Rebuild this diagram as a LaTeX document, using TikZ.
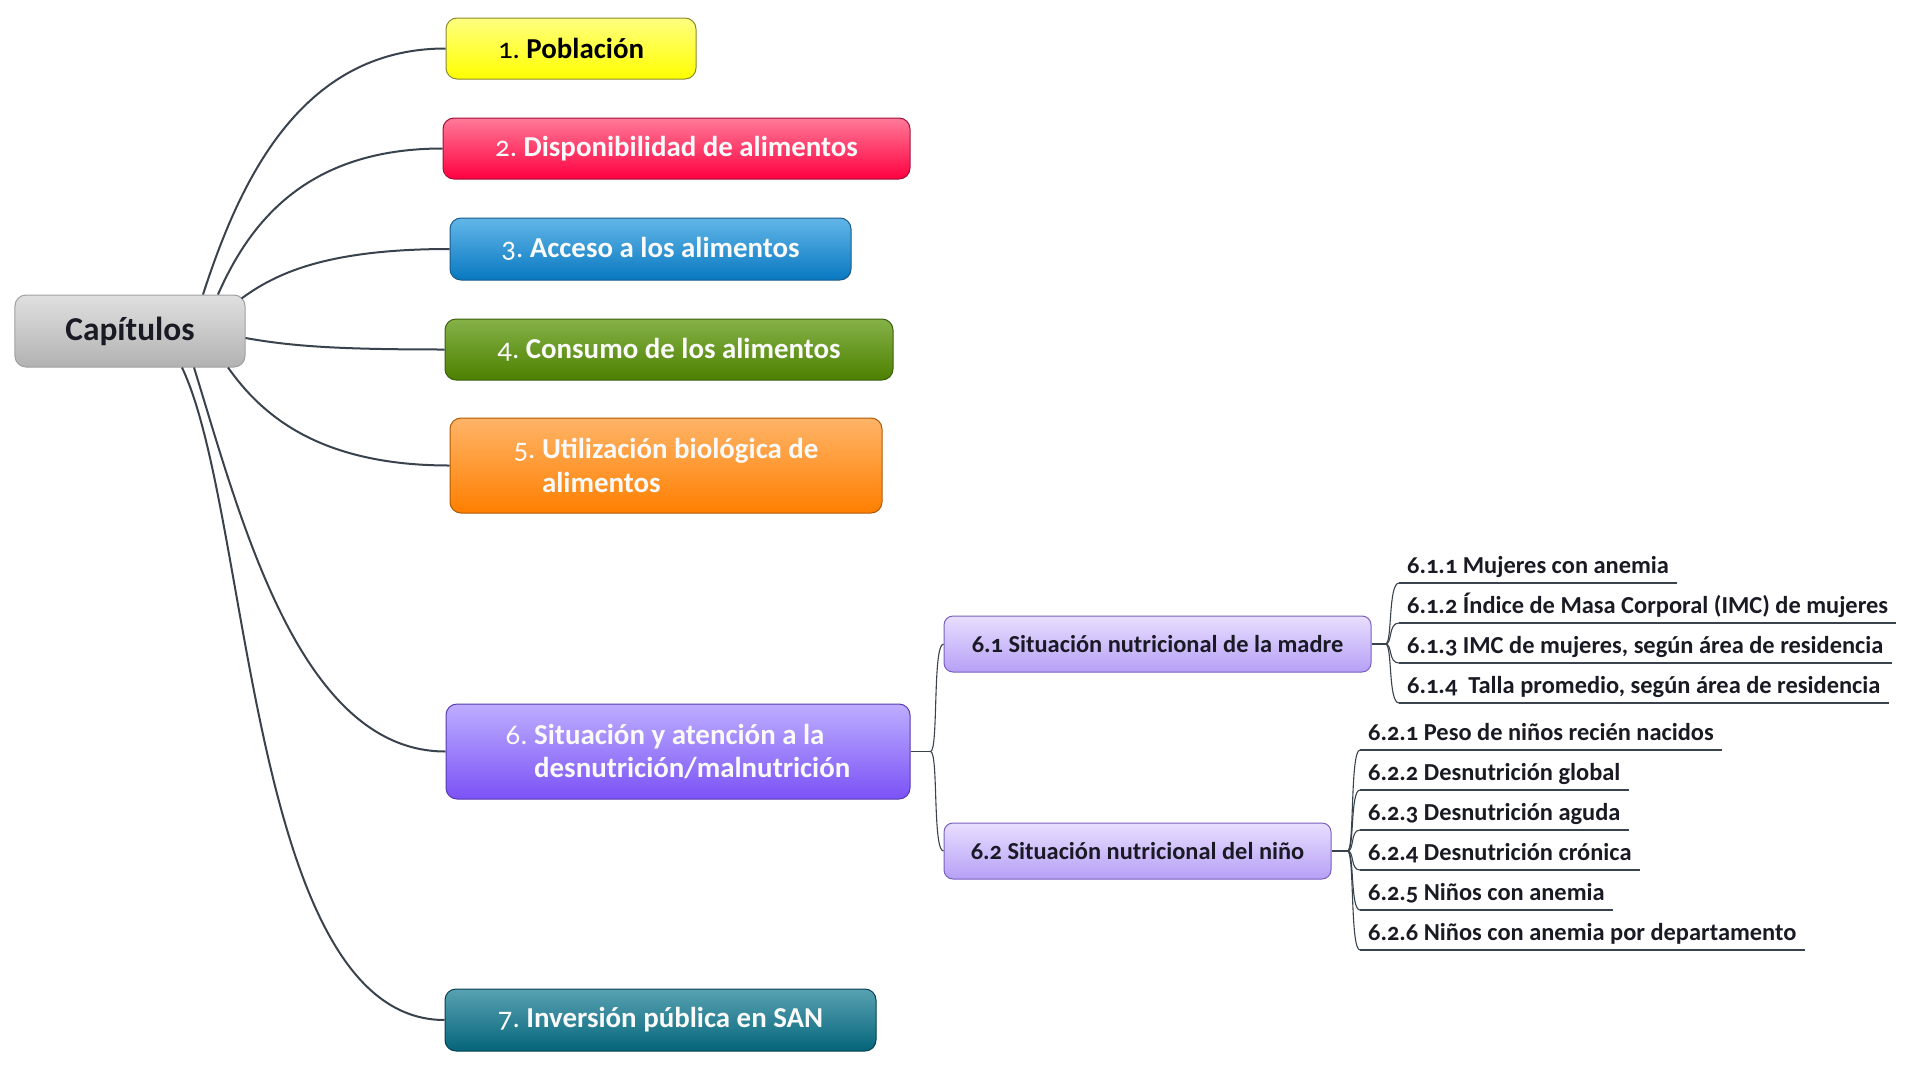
\documentclass[tikz,border=0pt]{standalone}
\usepackage{fontspec}
\setmainfont{Carlito}[Numbers=OldStyle]
\usetikzlibrary{calc}
\definecolor{linec}{HTML}{39434D}
\definecolor{capT}{HTML}{E0E0E0}\definecolor{capB}{HTML}{B2B2B2}\definecolor{capD}{HTML}{A0A0A0}
\definecolor{yT}{HTML}{FFFF80}\definecolor{yB}{HTML}{FFFF00}\definecolor{yD}{HTML}{8A8A30}
\definecolor{rT}{HTML}{FF7A98}\definecolor{rB}{HTML}{FF0040}\definecolor{rD}{HTML}{A0103A}
\definecolor{bT}{HTML}{62B6E8}\definecolor{bB}{HTML}{0878C0}\definecolor{bD}{HTML}{1A5A8A}
\definecolor{gT}{HTML}{86B248}\definecolor{gB}{HTML}{4C8000}\definecolor{gD}{HTML}{3A6010}
\definecolor{oT}{HTML}{FFB468}\definecolor{oB}{HTML}{FF7F00}\definecolor{oD}{HTML}{B05A00}
\definecolor{pT}{HTML}{BCAEFF}\definecolor{pB}{HTML}{7C52F6}\definecolor{pD}{HTML}{5A3AB0}
\definecolor{tT}{HTML}{58A2B2}\definecolor{tB}{HTML}{05657A}\definecolor{tD}{HTML}{064050}
\definecolor{lT}{HTML}{E8DEFF}\definecolor{lB}{HTML}{B6A0F6}\definecolor{lD}{HTML}{7A60C0}
\definecolor{txtw}{HTML}{FAFAFA}
\definecolor{txtd}{HTML}{1A1A24}
\newcommand\mainlbl[2]{{\mdseries #1.}~\textbf{#2}}
\begin{document}
\begin{tikzpicture}[x=1bp,y=-1bp,
  conn/.style={draw=linec,line width=2bp},
  thin conn/.style={draw=linec,line width=1.1bp},
  topic/.style={rounded corners=11bp,line width=1bp,inner sep=0pt,align=left,
     font=\fontsize{29}{34}\selectfont,text=txtw},
  subtopic/.style={rounded corners=9bp,line width=1bp,inner sep=0pt,
     font=\fontsize{24.5}{29}\selectfont\bfseries,text=txtd,
     top color=lT,bottom color=lB,draw=lD,minimum height=56bp},
  leaf/.style={anchor=south west,inner xsep=8bp,inner ysep=3bp,text depth=6bp,
     font=\fontsize{24.5}{29}\selectfont\bfseries,text=txtd}]
\useasboundingbox (0,0) rectangle (1924,1076);
\fill[white] (0,0) rectangle (1924,1076);

% central node
\node[topic,top color=capT,bottom color=capB,draw=capD,text=txtd,
  minimum width=230bp,minimum height=72bp,font=\fontsize{33.5}{40}\selectfont\bfseries]
  (cap) at (130,331) {Capítulos};

% main topics
\node[topic,top color=yT,bottom color=yB,draw=yD,text=black,minimum width=250bp,minimum height=61bp]
  (n1) at (571,48.5) {\mainlbl{1}{Población}};
\node[topic,top color=rT,bottom color=rB,draw=rD,minimum width=467bp,minimum height=61bp]
  (n2) at (676.5,148.5) {\mainlbl{2}{Disponibilidad de alimentos}};
\node[topic,top color=bT,bottom color=bB,draw=bD,minimum width=401bp,minimum height=62bp]
  (n3) at (650.5,249) {\mainlbl{3}{Acceso a los alimentos}};
\node[topic,top color=gT,bottom color=gB,draw=gD,minimum width=448bp,minimum height=61bp]
  (n4) at (669,349.5) {\mainlbl{4}{Consumo de los alimentos}};
\node[topic,top color=oT,bottom color=oB,draw=oD,minimum width=432bp,minimum height=95bp]
  (n5) at (666,465.5) {\mainlbl{5}{Utilización biológica de}\\\hphantom{5.~}\textbf{alimentos}};
\node[topic,top color=pT,bottom color=pB,draw=pD,minimum width=464bp,minimum height=95bp]
  (n6) at (678,751.5) {\mainlbl{6}{Situación y atención a la}\\\hphantom{6.~}\textbf{desnutrición/malnutrición}};
\node[topic,top color=tT,bottom color=tB,draw=tD,minimum width=431bp,minimum height=62bp]
  (n7) at (660.5,1020) {\mainlbl{7}{Inversión pública en SAN}};

% connectors from centre
\draw[conn] ($(cap.north)+(73,0)$) .. controls +(36,-111) and +(-146,0) .. (n1.west);
\draw[conn] ($(cap.north)+(88,0)$) .. controls +(32,-73) and +(-135,0) .. (n2.west);
\draw[conn] ($(cap.north east)+(-4,4)$) .. controls +(34,-25) and +(-123,0) .. (n3.west);
\draw[conn] ($(cap.east)+(0,7)$) .. controls +(45,8) and +(-110,0) .. (n4.west);
\draw[conn] ($(cap.south)+(98,0)$) .. controls +(34,48) and +(-130,0) .. (n5.west);
\draw[conn] ($(cap.south)+(64,0)$) .. controls +(47,152) and +(-146,0) .. (n6.west);
\draw[conn] ($(cap.south)+(52,0)$) .. controls +(69,145) and +(-195,0) .. (n7.west);

% second level
\node[subtopic,minimum width=427bp] (n61) at (1157.5,644) {6.1 Situación nutricional de la madre};
\node[subtopic,minimum width=387bp] (n62) at (1137.5,851) {6.2 Situación nutricional del niño};

\draw[thin conn] (n6.east) -- ++(20,0) coordinate (j6);
\draw[thin conn] (j6) .. controls +(8,0) and +(-11,0) .. (n61.west);
\draw[thin conn] (j6) .. controls +(8,0) and +(-11,0) .. (n62.west);

% leaves of 6.1
\node[leaf] (l611) at (1399,583) {6.1.1 Mujeres con anemia};
\node[leaf] (l612) at (1399,623) {6.1.2 Índice de Masa Corporal (IMC) de mujeres};
\node[leaf] (l613) at (1399,663) {6.1.3 IMC de mujeres, según área de residencia};
\node[leaf] (l614) at (1399,703) {6.1.4\ \ Talla promedio, según área de residencia};
\draw[thin conn] (n61.east) -- ++(14,0) coordinate (j61);
\foreach \l in {l611,l612,l613,l614}{
  \draw[thin conn] (\l.south west) -- (\l.south east);
  \draw[thin conn] (j61) .. controls +(7,0) and +(-11,0) .. (\l.south west);
}

% leaves of 6.2
\node[leaf] (l621) at (1360,750) {6.2.1 Peso de niños recién nacidos};
\node[leaf] (l622) at (1360,790) {6.2.2 Desnutrición global};
\node[leaf] (l623) at (1360,830) {6.2.3 Desnutrición aguda};
\node[leaf] (l624) at (1360,870) {6.2.4 Desnutrición crónica};
\node[leaf] (l625) at (1360,910) {6.2.5 Niños con anemia};
\node[leaf] (l626) at (1360,950) {6.2.6 Niños con anemia por departamento};
\draw[thin conn] (n62.east) -- ++(16,0) coordinate (j62);
\foreach \l in {l621,l622,l623,l624,l625,l626}{
  \draw[thin conn] (\l.south west) -- (\l.south east);
  \draw[thin conn] (j62) .. controls +(7,0) and +(-10,0) .. (\l.south west);
}
\end{tikzpicture}
\end{document}
